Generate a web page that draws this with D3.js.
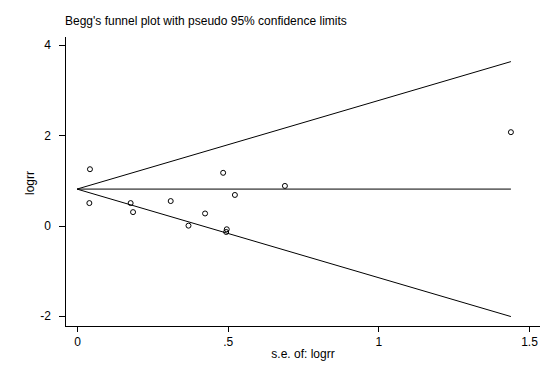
<!DOCTYPE html>
<html>
<head>
<meta charset="utf-8">
<script src="https://cdn.jsdelivr.net/npm/d3@7"></script>
<style>
  body { margin: 0; background: #fff; }
  text { font-family: "Liberation Sans", Arial, sans-serif; }
</style>
</head>
<body>
<div id="chart"></div>
<script>
// study data: standard error and log relative risk
var se =    [0.043, 0.041, 0.178, 0.186, 0.311, 0.370, 0.425, 0.485, 0.524, 0.497, 0.495, 0.690, 1.440];
var logrr = [1.25,  0.50,  0.50,  0.30,  0.545, 0.00,  0.27,  1.17,  0.68, -0.08, -0.14,  0.88,  2.07];
var pooled = 0.81;
var seMax = 1.44;
var xTicks = [0, 0.5, 1, 1.5];
var xTickLabels = ["0", ".5", "1", "1.5"];
var yTicks = [-2, 0, 2, 4];
var yTickLabels = ["-2", "0", "2", "4"];

var width = 554, height = 369;
var svg = d3.select("#chart").append("svg")
    .attr("width", width)
    .attr("height", height);

var x = d3.scaleLinear().domain([0, 1.5]).range([77, 529]);
var y = d3.scaleLinear().domain([-2, 4]).range([316, 45]);

// axes
var xAxis = d3.axisBottom(x).tickValues(xTicks)
    .tickFormat(function(d, i) { return xTickLabels[i]; })
    .tickSize(6).tickSizeOuter(0).tickPadding(5);
var yAxis = d3.axisLeft(y).tickValues(yTicks)
    .tickFormat(function(d, i) { return yTickLabels[i]; })
    .tickSize(6).tickSizeOuter(0).tickPadding(8);

svg.append("g")
    .attr("transform", "translate(0,326)")
    .call(xAxis)
    .call(function(g) {
        g.select(".domain").remove();
        g.append("line").attr("x1", 65).attr("x2", 540).attr("y1", 0).attr("y2", 0)
            .attr("stroke", "#000").attr("shape-rendering", "crispEdges");
    });

svg.append("g")
    .attr("transform", "translate(65,0)")
    .call(yAxis)
    .call(function(g) {
        g.select(".domain").remove();
        g.append("line").attr("x1", 0).attr("x2", 0).attr("y1", 37).attr("y2", 326)
            .attr("stroke", "#000").attr("shape-rendering", "crispEdges");
    });

svg.selectAll(".tick line").attr("stroke", "#000").attr("shape-rendering", "crispEdges");
svg.selectAll(".tick text")
    .attr("fill", "#000")
    .style("font-size", "12px")
    .style("font-family", "'Liberation Sans', Arial, sans-serif");

// funnel lines
var lines = [
    [[0, pooled], [seMax, pooled]],
    [[0, pooled], [seMax, pooled + 1.96 * seMax]],
    [[0, pooled], [seMax, pooled - 1.96 * seMax]]
];
var line = d3.line().x(function(d) { return x(d[0]); }).y(function(d) { return y(d[1]); });
svg.selectAll(".funnel").data(lines).enter().append("path")
    .attr("class", "funnel")
    .attr("d", line)
    .attr("fill", "none")
    .attr("stroke", "#000")
    .attr("stroke-width", 1);

// points
svg.selectAll(".pt").data(se).enter().append("circle")
    .attr("class", "pt")
    .attr("cx", function(d) { return x(d); })
    .attr("cy", function(d, i) { return y(logrr[i]); })
    .attr("r", 2.5)
    .attr("fill", "none")
    .attr("stroke", "#000")
    .attr("stroke-width", 1);

// titles
svg.append("text")
    .attr("x", 65).attr("y", 25)
    .style("font-size", "12px")
    .text("Begg's funnel plot with pseudo 95% confidence limits");

svg.append("text")
    .attr("x", 303).attr("y", 358)
    .attr("text-anchor", "middle")
    .style("font-size", "12px")
    .text("s.e. of: logrr");

svg.append("text")
    .attr("transform", "translate(34,183) rotate(-90)")
    .attr("text-anchor", "middle")
    .style("font-size", "12px")
    .text("logrr");
</script>
</body>
</html>
